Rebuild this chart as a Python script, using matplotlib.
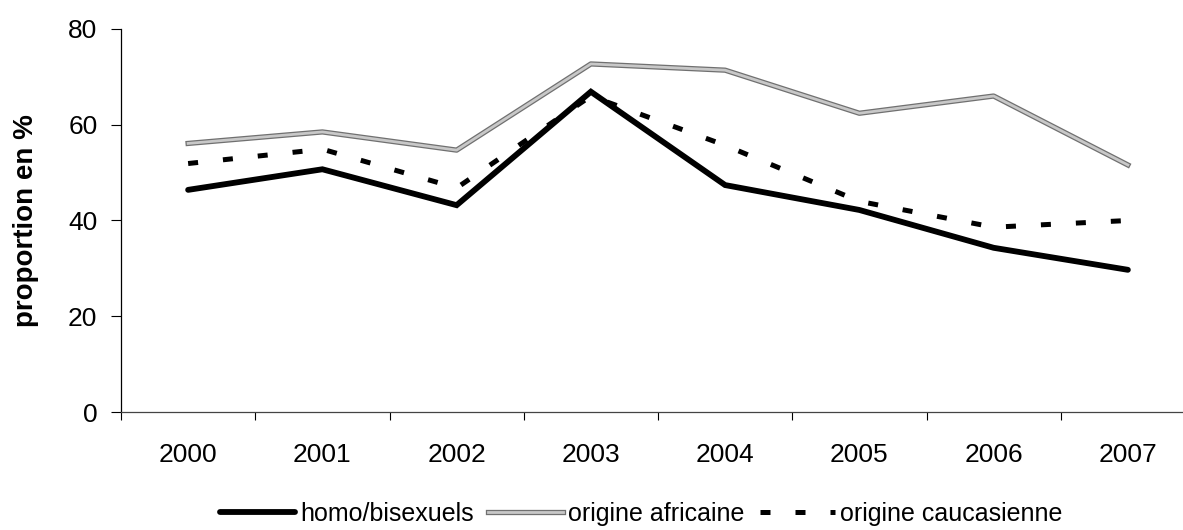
import matplotlib
matplotlib.use("Agg")
import matplotlib.pyplot as plt
import matplotlib.patheffects as pe
import numpy as np

plt.rcParams['font.family'] = ['Liberation Sans', 'DejaVu Sans']

# données (proportion en %)
annees = ['2000', '2001', '2002', '2003', '2004', '2005', '2006', '2007']
homo_bisexuels = [46.4, 50.7, 43.2, 66.9, 47.4, 42.2, 34.3, 29.7]
origine_africaine = [56.1, 58.5, 54.7, 72.7, 71.4, 62.4, 66.0, 51.6]
origine_caucasienne = [51.9, 54.9, 46.8, 66.0, 55.7, 44.0, 38.6, 40.0]
y_ticks = [0, 20, 40, 60, 80]

fig = plt.figure(figsize=(11.83, 5.30), dpi=100)
ax = fig.add_axes([121 / 1183, 1 - 412 / 530, 1074 / 1183, 383 / 530])

x = np.arange(len(annees))

ax.plot(x, homo_bisexuels, color='black', lw=4.2, solid_capstyle='round',
        solid_joinstyle='miter', label='homo/bisexuels', zorder=4)
ax.plot(x, origine_africaine, color='#c8c8c8', lw=2.0, label='origine africaine', zorder=3,
        path_effects=[pe.Stroke(linewidth=3.8, foreground='#707070'), pe.Normal()])
ax.plot(x, origine_caucasienne, color='black', lw=3.6, dashes=(2.0, 5.0),
        dash_capstyle='butt', label='origine caucasienne', zorder=3)

ax.set_xlim(-0.5, len(annees) - 0.5)
ax.set_ylim(0, 80)

ax.set_xticks(x, annees)
ax.set_xticks(np.arange(len(annees) + 1) - 0.5, minor=True)
ax.tick_params(axis='x', which='major', length=0, pad=22, labelsize=19)
ax.tick_params(axis='x', which='minor', length=6, width=0.8, direction='out')
ax.set_yticks(y_ticks)
ax.tick_params(axis='y', length=7, width=0.8, direction='out', pad=10, labelsize=19)

for side in ['top', 'right']:
    ax.spines[side].set_visible(False)
ax.spines['left'].set_linewidth(0.9)
ax.spines['bottom'].set_linewidth(0.9)
ax.spines['bottom'].set_color('#444444')

ax.set_ylabel('proportion en %', fontsize=20, fontweight='bold')
ax.yaxis.set_label_coords(-0.0764, 0.5)

fig.legend(loc='center', bbox_to_anchor=(641 / 1183, 1 - 514 / 530), ncol=3,
           frameon=False, fontsize=18, handlelength=3.0, handletextpad=0.2,
           columnspacing=0.6, borderpad=0.0)

fig.savefig('out.png', dpi=100)
